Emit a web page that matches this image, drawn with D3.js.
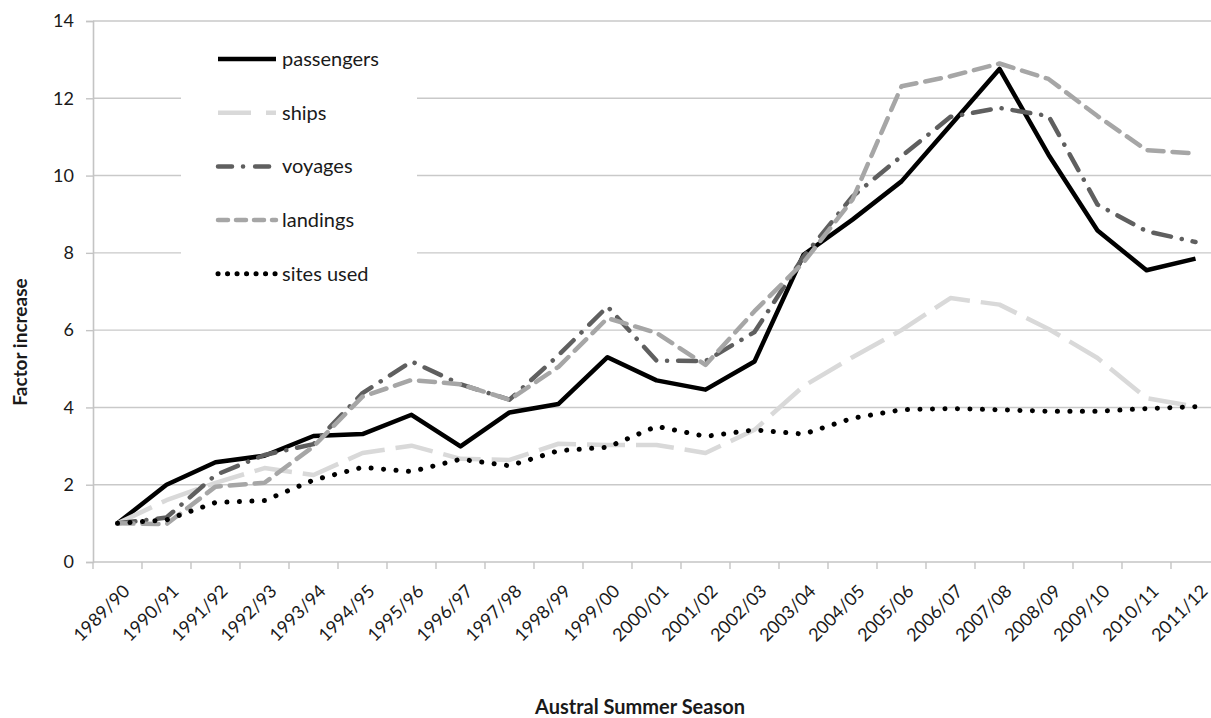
<!DOCTYPE html>
<html>
<head>
<meta charset="utf-8">
<script src="https://cdn.jsdelivr.net/npm/d3@7"></script>
<style>
body { margin: 0; background: #fff; }
text { font-family: Lato, "Open Sans", sans-serif; fill: #1a1a1a; }
</style>
</head>
<body>
<div id="chart"></div>
<script>
// seasons on the category axis
var seasons = ["1989/90","1990/91","1991/92","1992/93","1993/94","1994/95","1995/96","1996/97",
	"1997/98","1998/99","1999/00","2000/01","2001/02","2002/03","2003/04","2004/05","2005/06",
	"2006/07","2007/08","2008/09","2009/10","2010/11","2011/12"];

// factor increase relative to 1989/90
var passengers = [1.0,2.0,2.58,2.75,3.26,3.31,3.81,2.99,3.87,4.09,5.3,4.7,4.46,5.19,7.95,8.86,9.85,11.3,12.76,10.54,8.58,7.55,7.85];
var ships      = [1.0,1.6,2.05,2.43,2.25,2.82,3.01,2.67,2.64,3.06,3.03,3.03,2.82,3.42,4.55,5.3,6.0,6.83,6.66,6.03,5.28,4.24,4.02];
var voyages    = [1.0,1.15,2.25,2.77,3.05,4.37,5.19,4.6,4.2,5.35,6.61,5.21,5.2,5.95,7.9,9.46,10.5,11.52,11.75,11.54,9.25,8.56,8.28];
var landings   = [1.0,0.98,1.95,2.05,2.99,4.28,4.71,4.6,4.2,5.05,6.31,5.93,5.1,6.49,7.75,9.38,12.31,12.57,12.9,12.5,11.54,10.66,10.57];
var sitesUsed  = [1.0,1.09,1.54,1.59,2.12,2.45,2.34,2.66,2.49,2.88,2.97,3.51,3.25,3.42,3.31,3.72,3.94,3.97,3.94,3.9,3.9,3.97,4.02];

var yTicks = [0,2,4,6,8,10,12,14];

var series = [
	{name:"passengers", values:passengers, color:"#000", width:4.5, dash:null, legendDash:null, cap:"butt"},
	{name:"ships", values:ships, color:"#d9d9d9", width:4.5, dash:"38,11", legendDash:"33,15", cap:"butt"},
	{name:"voyages", values:voyages, color:"#5f5f5f", width:4.5, dash:"18,11,0.1,11", legendDash:"14,11,0.1,12", cap:"round"},
	{name:"landings", values:landings, color:"#a6a6a6", width:4.5, dash:"16,9", legendDash:"10,8", cap:"round"},
	{name:"sites used", values:sitesUsed, color:"#000", width:5, dash:"0.1,12.4", legendDash:"0.1,9.4", cap:"round"}
];

function drawChart()
{
	var W = 1211, H = 718;
	var pLeft = 93, pRight = 1220, pTop = 21, pBottom = 562;

	var svg = d3.select("#chart").append("svg")
		.attr("width", W)
		.attr("height", H);

	var x = d3.scaleBand().domain(seasons).range([pLeft, pRight]).padding(0);
	var y = d3.scaleLinear().domain([0, 14]).range([pBottom, pTop]);
	var cx = function(s){ return x(s) + x.bandwidth()/2; };

	// gridlines
	svg.append("g").selectAll("line")
		.data(yTicks.filter(function(d){ return d > 0; }))
		.enter().append("line")
		.attr("x1", pLeft).attr("x2", W)
		.attr("y1", function(d){ return y(d); })
		.attr("y2", function(d){ return y(d); })
		.attr("stroke", "#c9c9c9")
		.attr("stroke-width", 1.4);

	// y axis
	var yAxis = d3.axisLeft(y).tickValues(yTicks).tickSize(7).tickPadding(12);
	var gy = svg.append("g").attr("transform", "translate(" + pLeft + ",0)").call(yAxis);
	gy.select(".domain").attr("stroke", "#c4c4c4").attr("stroke-width", 1.6);
	gy.selectAll(".tick line").attr("stroke", "#c4c4c4").attr("stroke-width", 1.4);
	gy.selectAll(".tick text").style("font-size", "18px").style("font-family", "Lato, sans-serif").attr("fill", "#1a1a1a");

	// x axis: ticks between categories
	svg.append("line")
		.attr("x1", pLeft).attr("x2", W)
		.attr("y1", pBottom).attr("y2", pBottom)
		.attr("stroke", "#c4c4c4").attr("stroke-width", 1.6);

	svg.append("g").selectAll("line")
		.data(seasons)
		.enter().append("line")
		.attr("x1", function(d){ return x(d); })
		.attr("x2", function(d){ return x(d); })
		.attr("y1", pBottom).attr("y2", pBottom + 7)
		.attr("stroke", "#c4c4c4").attr("stroke-width", 1.4);

	svg.append("g").selectAll("text")
		.data(seasons)
		.enter().append("text")
		.attr("transform", function(d){ return "translate(" + (cx(d) + 9) + "," + (pBottom + 26) + ") rotate(-45)"; })
		.attr("text-anchor", "end")
		.attr("dy", "0.35em")
		.style("font-size", "18px")
		.text(function(d){ return d; });

	// legend box (white, hides gridlines)
	svg.append("rect")
		.attr("x", 181).attr("y", 32)
		.attr("width", 236).attr("height", 266)
		.attr("fill", "#fff");

	// series lines
	var line = d3.line()
		.x(function(d, i){ return cx(seasons[i]); })
		.y(function(d){ return y(d); });

	series.forEach(function(s){
		svg.append("path")
			.datum(s.values)
			.attr("d", line)
			.attr("fill", "none")
			.attr("stroke", s.color)
			.attr("stroke-width", s.width)
			.attr("stroke-linejoin", "round")
			.attr("stroke-linecap", s.cap)
			.attr("stroke-dasharray", s.dash);
	});

	// legend entries
	var lg = svg.append("g").selectAll("g")
		.data(series)
		.enter().append("g")
		.attr("transform", function(d, i){ return "translate(218," + (59 + i*53.7) + ")"; });

	lg.append("line")
		.attr("x1", 0).attr("x2", 58)
		.attr("stroke", function(d){ return d.color; })
		.attr("stroke-width", function(d){ return d.width; })
		.attr("stroke-linecap", function(d){ return d.cap; })
		.attr("stroke-dasharray", function(d){ return d.legendDash; });

	lg.append("text")
		.attr("x", 64)
		.attr("dy", "0.35em")
		.style("font-size", "20px")
		.text(function(d){ return d.name; });

	// axis titles
	svg.append("text")
		.attr("transform", "translate(27,342) rotate(-90)")
		.attr("text-anchor", "middle")
		.style("font-size", "19px")
		.style("font-weight", "bold")
		.text("Factor increase");

	svg.append("text")
		.attr("x", 640).attr("y", 714)
		.attr("text-anchor", "middle")
		.style("font-size", "20px")
		.style("font-weight", "bold")
		.text("Austral Summer Season");
}

drawChart();
</script>
</body>
</html>
